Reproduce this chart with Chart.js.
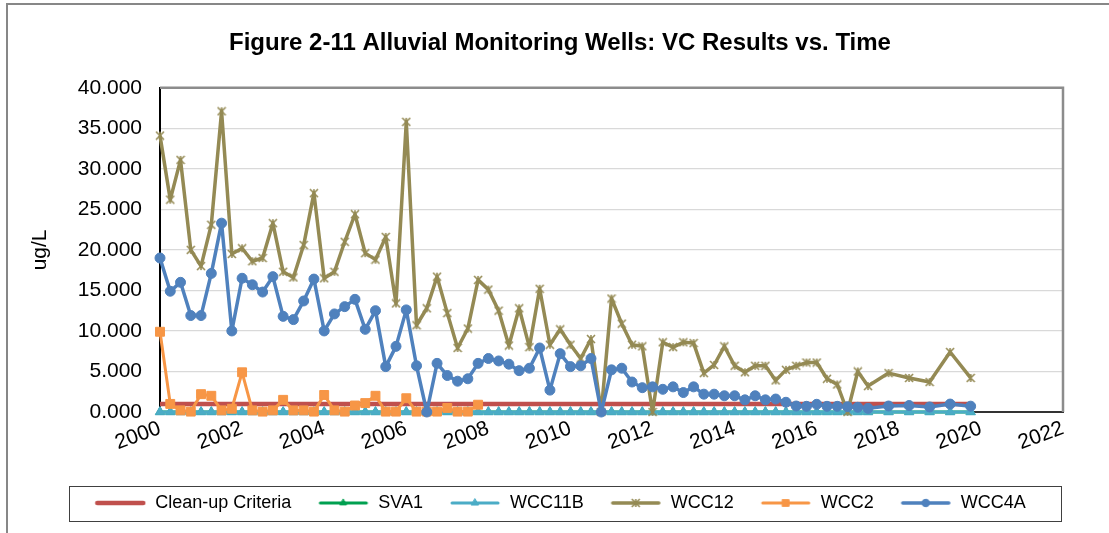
<!DOCTYPE html>
<html lang="en">
<head>
<meta charset="utf-8">
<title>Figure 2-11 Alluvial Monitoring Wells: VC Results vs. Time</title>
<script src="https://cdn.jsdelivr.net/npm/chart.js@4.4.1/dist/chart.umd.min.js"></script>
<style>
    html, body { margin: 0; padding: 0; background: #fff; }
    #chart { display: block; }
</style>
</head>
<body>
<canvas id="chart" width="1109" height="533"></canvas>
<script>
"use strict";

// sampling dates in decimal years (quarterly, then semi-annual)
const dates = [
    2000, 2000.25, 2000.5, 2000.75, 2001, 2001.25, 2001.5, 2001.75,
    2002, 2002.25, 2002.5, 2002.75, 2003, 2003.25, 2003.5, 2003.75,
    2004, 2004.25, 2004.5, 2004.75, 2005, 2005.25, 2005.5, 2005.75,
    2006, 2006.25, 2006.5, 2006.75, 2007, 2007.25, 2007.5, 2007.75,
    2008, 2008.25, 2008.5, 2008.75, 2009, 2009.25, 2009.5, 2009.75,
    2010, 2010.25, 2010.5, 2010.75, 2011, 2011.25, 2011.5, 2011.75,
    2012, 2012.25, 2012.5, 2012.75, 2013, 2013.25, 2013.5, 2013.75,
    2014, 2014.25, 2014.5, 2014.75, 2015, 2015.25, 2015.5, 2015.75,
    2016, 2016.25, 2016.5, 2016.75, 2017, 2017.25,
    2017.75, 2018.25, 2018.75, 2019.25, 2019.75
];
const cleanupDates = [2000, 2019.75];
const cleanupLevel = [1, 1];
const sva1 = [
    0, 0, 0, 0, 0, 0, 0, 0, 0, 0,
    0, 0, 0, 0, 0, 0, 0, 0, 0, 0,
    0, 0, 0, 0, 0, 0, 0, 0, 0, 0,
    0, 0, 0, 0, 0, 0, 0, 0, 0, 0,
    0, 0, 0, 0, 0, 0, 0, 0, 0, 0,
    0, 0, 0, 0, 0, 0, 0, 0, 0, 0,
    0, 0, 0, 0, 0, 0, 0, 0, 0, 0,
    0, 0, 0, 0, 0
];
const wcc11b = [
    0, 0, 0, 0, 0, 0, 0, 0, 0, 0,
    0, 0, 0, 0, 0, 0, 0, 0, 0, 0,
    0, 0, 0, 0, 0, 0, 0, 0, 0, 0,
    0, 0, 0, 0, 0, 0, 0, 0, 0, 0,
    0, 0, 0, 0, 0, 0, 0, 0, 0, 0,
    0, 0, 0, 0, 0, 0, 0, 0, 0, 0,
    0, 0, 0, 0, 0, 0, 0, 0, 0, 0,
    0, 0, 0, 0, 0
];
const wcc12 = [
    34.1, 26.2, 31.1, 20.0, 18.0, 23.1, 37.1, 19.5,
    20.2, 18.6, 19.0, 23.3, 17.3, 16.6, 20.6, 27.0,
    16.5, 17.3, 21.0, 24.4, 19.6, 18.8, 21.6, 13.4,
    35.8, 10.7, 12.8, 16.7, 12.2, 7.9, 10.3, 16.3,
    15.1, 12.5, 8.2, 12.8, 8.0, 15.2, 8.3, 10.2,
    8.3, 6.6, 9.0, 0, 14.0, 10.9, 8.3, 8.1,
    0, 8.6, 8.0, 8.6, 8.5, 4.8, 5.8, 8.1,
    5.7, 4.9, 5.7, 5.7, 3.9, 5.2, 5.7, 6.1,
    6.1, 4.1, 3.4, 0, 5.0, 3.2,
    4.8, 4.2, 3.7, 7.4, 4.2
];
const wcc2 = [
    9.9, 1.0, 0.2, 0.05, 2.2, 2.0, 0.2, 0.4,
    4.9, 0.2, 0.05, 0.2, 1.5, 0.2, 0.2, 0.05,
    2.1, 0.2, 0.05, 0.8, 1.1, 2.0, 0.05, 0.05,
    1.7, 0.05, 0.05, 0.05, 0.5, 0.05, 0.05, 0.9
];
const wcc4a = [
    19.0, 14.9, 16.0, 11.9, 11.9, 17.1, 23.3, 10.0,
    16.5, 15.7, 14.8, 16.7, 11.8, 11.4, 13.7, 16.4,
    10.0, 12.1, 13.0, 13.9, 10.2, 12.5, 5.6, 8.1,
    12.6, 5.7, 0, 6.0, 4.5, 3.8, 4.1, 6.0,
    6.6, 6.3, 5.9, 5.1, 5.4, 7.9, 2.7, 7.2,
    5.6, 5.7, 6.6, 0, 5.2, 5.4, 3.7, 3.0,
    3.1, 2.8, 3.1, 2.4, 3.1, 2.2, 2.2, 2.0,
    2.0, 1.5, 2.0, 1.5, 1.6, 1.2, 0.74, 0.7,
    0.95, 0.7, 0.7, 0.65, 0.58, 0.45,
    0.74, 0.8, 0.62, 0.98, 0.72
];
const yTicks = [0, 5, 10, 15, 20, 25, 30, 35, 40];
const xTicks = [2000, 2002, 2004, 2006, 2008, 2010, 2012, 2014, 2016, 2018, 2020, 2022];

const FONT = "'Liberation Sans', Arial, sans-serif";
Chart.defaults.font.family = FONT;
Chart.defaults.color = "#000";

const pts = (xs, ys) => ys.map((y, i) => ({ x: xs[i], y: y }));

// Excel style "star" marker: an X with a vertical bar
function starMarker(size, color) {
    const c = document.createElement("canvas");
    c.width = size; c.height = size;
    const g = c.getContext("2d");
    const m = size / 2, r = size / 2 - 1;
    g.strokeStyle = color; g.lineWidth = 1.6;
    g.beginPath();
    g.moveTo(m - r, m - r); g.lineTo(m + r, m + r);
    g.moveTo(m + r, m - r); g.lineTo(m - r, m + r);
    g.moveTo(m, m - r); g.lineTo(m, m + r);
    g.stroke();
    return c;
}

function series(label, data, color, width, style, radius, order) {
    return {
        label: label, data: data, order: order,
        borderColor: color, backgroundColor: color, borderWidth: width, borderJoinStyle: "round",
        pointStyle: style, pointRadius: radius, pointBorderWidth: 1,
        pointBackgroundColor: color, pointBorderColor: color,
        tension: 0, clip: false
    };
}

const datasets = [
    series("Clean-up Criteria", pts(cleanupDates, cleanupLevel), "#C0504D", 4.5, "circle", 0, 6),
    series("SVA1", pts(dates, sva1), "#00A050", 3, "triangle", 5, 5),
    series("WCC11B", pts(dates, wcc11b), "#4BACC6", 3, "triangle", 5.5, 4),
    series("WCC12", pts(dates, wcc12), "#948A54", 3.5, starMarker(10, "#948A54"), 4, 3),
    series("WCC2", pts(dates, wcc2), "#F79646", 3, "rect", 6.3, 2),
    series("WCC4A", pts(dates, wcc4a), "#4F81BD", 3.5, "circle", 5, 1)
];

// line + marker sample for the legend
function legendIcon(ds) {
    const c = document.createElement("canvas");
    c.width = 52; c.height = 16;
    const g = c.getContext("2d");
    g.strokeStyle = ds.borderColor; g.lineWidth = ds.borderWidth; g.lineCap = "round";
    g.beginPath(); g.moveTo(3, 8); g.lineTo(49, 8); g.stroke();
    if (ds.pointRadius > 0) {
        g.fillStyle = ds.pointBackgroundColor; g.strokeStyle = ds.pointBorderColor; g.lineWidth = 1;
        Chart.helpers.drawPoint(g, { pointStyle: ds.pointStyle, radius: ds.pointRadius * 0.75, rotation: 0, borderWidth: 1 }, 26, 8);
    }
    return c;
}
const legendIcons = datasets.map(legendIcon);

const frames = {
    id: "frames",
    beforeDraw(chart) {
        const g = chart.ctx;
        g.save();
        g.strokeStyle = "#878787"; g.lineWidth = 2;
        g.beginPath(); g.moveTo(7, chart.height); g.lineTo(7, 4); g.lineTo(chart.width, 4); g.stroke();
        g.restore();
    },
    beforeDatasetsDraw(chart) {
        const g = chart.ctx, a = chart.chartArea;
        g.save();
        g.strokeStyle = "#8C8C8C"; g.lineWidth = 2.5;
        g.beginPath(); g.moveTo(a.left, a.top); g.lineTo(a.right, a.top); g.lineTo(a.right, a.bottom); g.stroke();
        g.restore();
    },
    afterDraw(chart) {
        const g = chart.ctx, a = chart.chartArea;
        g.save();
        g.strokeStyle = "#404040"; g.lineWidth = 1;
        g.strokeRect(a.left - 91 + 0.5, a.bottom + 74 + 0.5, a.width + 89, 35);
        g.restore();
    }
};

new Chart(document.getElementById("chart"), {
    type: "line",
    data: { datasets: datasets },
    plugins: [frames],
    options: {
        responsive: false,
        devicePixelRatio: 1,
        animation: false,
        events: [],
        layout: { padding: { left: 20, right: 9, top: 10, bottom: 11 } },
        plugins: {
            title: { display: true, text: "Figure 2-11 Alluvial Monitoring Wells: VC Results vs. Time", color: "#000", font: { size: 24, weight: "bold" }, padding: { top: 19, bottom: 30 } },
            legend: {
                position: "bottom",
                labels: {
                    color: "#000", font: { size: 18 }, padding: 26,
                    usePointStyle: true, pointStyleWidth: 52,
                    sort: (a, b) => a.datasetIndex - b.datasetIndex,
                    generateLabels(chart) {
                        const items = Chart.defaults.plugins.legend.labels.generateLabels(chart);
                        items.forEach((it) => { it.pointStyle = legendIcons[it.datasetIndex]; it.rotation = 0; });
                        return items;
                    }
                }
            },
            tooltip: { enabled: false }
        },
        scales: {
            x: {
                type: "linear", min: 2000, max: 2022,
                afterBuildTicks: (s) => { s.ticks = xTicks.map((v) => ({ value: v })); },
                afterFit: (s) => { s.height = 56; },
                grid: { display: false, drawTicks: false },
                border: { color: "#333", width: 2 },
                ticks: { autoSkip: false, minRotation: 20, maxRotation: 20, padding: 4, color: "#000", font: { size: 21 }, callback: (v) => String(v) }
            },
            y: {
                min: 0, max: 40,
                afterBuildTicks: (s) => { s.ticks = yTicks.map((v) => ({ value: v })); },
                afterFit: (s) => { s.width = 140; },
                grid: { color: "#D9D9D9", lineWidth: 1.3, drawTicks: false },
                border: { color: "#000", width: 2 },
                ticks: { padding: 18, color: "#000", font: { size: 21 }, callback: (v) => Number(v).toFixed(3) },
                title: { display: true, text: "ug/L", color: "#000", font: { size: 21 }, padding: { top: 8, bottom: 0 } }
            },
            yR: {
                type: "linear", position: "right", display: true,
                afterFit: (s) => { s.width = 37; },
                grid: { display: false, drawTicks: false },
                border: { display: false },
                ticks: { display: false }
            }
        }
    }
});
</script>
</body>
</html>
